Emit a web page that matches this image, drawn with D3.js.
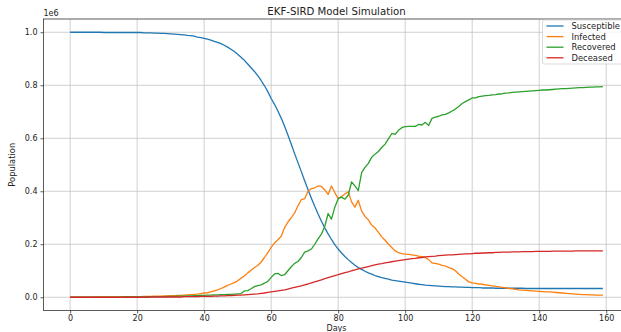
<!DOCTYPE html>
<html>
<head>
<meta charset="utf-8">
<script src="https://cdn.jsdelivr.net/npm/d3@7"></script>
<style>
  html, body { margin: 0; padding: 0; background: #fff; }
  svg { display: block; font-family: "DejaVu Sans", sans-serif; }
</style>
</head>
<body>
<svg id="chart" width="621" height="332"></svg>
<script>
// Daily compartment sizes from the EKF-SIRD run, in units of 1e6 people.
const days = d3.range(0, 160);

const susceptible = [
  1.000, 1.000, 1.000, 1.000, 1.000, 1.000, 1.000, 1.000, 1.000, 1.000,
  0.999, 0.999, 0.999, 0.999, 0.999, 0.999, 0.999, 0.999, 0.999, 0.999,
  0.999, 0.999, 0.998, 0.998, 0.998, 0.997, 0.997, 0.996, 0.996, 0.995,
  0.994, 0.993, 0.992, 0.991, 0.990, 0.988, 0.987, 0.985, 0.982, 0.980,
  0.977, 0.974, 0.970, 0.966, 0.962, 0.957, 0.951, 0.944, 0.936, 0.927,
  0.917, 0.906, 0.894, 0.880, 0.866, 0.852, 0.836, 0.818, 0.798, 0.776,
  0.750, 0.728, 0.703, 0.676, 0.645, 0.612, 0.577, 0.542, 0.508, 0.474,
  0.440, 0.406, 0.374, 0.343, 0.314, 0.287, 0.262, 0.239, 0.218, 0.199,
  0.182, 0.167, 0.154, 0.142, 0.131, 0.121, 0.112, 0.105, 0.098, 0.092,
  0.087, 0.082, 0.078, 0.074, 0.071, 0.068, 0.065, 0.063, 0.061, 0.059,
  0.057, 0.055, 0.053, 0.051, 0.049, 0.048, 0.046, 0.045, 0.044, 0.043,
  0.042, 0.041, 0.040, 0.040, 0.039, 0.039, 0.038, 0.038, 0.037, 0.037,
  0.036, 0.036, 0.036, 0.035, 0.035, 0.035, 0.035, 0.034, 0.034, 0.034,
  0.034, 0.034, 0.034, 0.034, 0.034, 0.034, 0.033, 0.033, 0.033, 0.033,
  0.033, 0.033, 0.033, 0.033, 0.033, 0.033, 0.033, 0.033, 0.033, 0.033,
  0.033, 0.033, 0.033, 0.033, 0.033, 0.033, 0.033, 0.033, 0.033, 0.033
];

const infected = [
  0.000, 0.000, 0.000, 0.000, 0.000, 0.000, 0.000, 0.001, 0.001, 0.001,
  0.001, 0.001, 0.001, 0.001, 0.001, 0.001, 0.002, 0.002, 0.002, 0.002,
  0.002, 0.002, 0.003, 0.003, 0.003, 0.004, 0.004, 0.004, 0.005, 0.005,
  0.006, 0.006, 0.007, 0.007, 0.008, 0.009, 0.010, 0.011, 0.012, 0.014,
  0.016, 0.017, 0.020, 0.024, 0.028, 0.033, 0.038, 0.045, 0.050, 0.055,
  0.062, 0.072, 0.080, 0.092, 0.102, 0.112, 0.120, 0.133, 0.150, 0.168,
  0.188, 0.205, 0.217, 0.230, 0.262, 0.284, 0.300, 0.318, 0.345, 0.368,
  0.372, 0.400, 0.410, 0.413, 0.420, 0.418, 0.405, 0.388, 0.420, 0.395,
  0.372, 0.380, 0.390, 0.398, 0.360, 0.340, 0.366, 0.325, 0.305, 0.292,
  0.272, 0.262, 0.245, 0.228, 0.215, 0.200, 0.188, 0.175, 0.168, 0.165,
  0.163, 0.162, 0.160, 0.158, 0.155, 0.153, 0.150, 0.142, 0.130, 0.128,
  0.125, 0.120, 0.118, 0.112, 0.108, 0.100, 0.088, 0.077, 0.068, 0.058,
  0.054, 0.052, 0.050, 0.049, 0.047, 0.045, 0.043, 0.041, 0.039, 0.037,
  0.035, 0.033, 0.032, 0.030, 0.028, 0.027, 0.026, 0.025, 0.024, 0.023,
  0.022, 0.021, 0.020, 0.020, 0.019, 0.018, 0.017, 0.016, 0.015, 0.014,
  0.013, 0.012, 0.011, 0.010, 0.010, 0.009, 0.009, 0.008, 0.008, 0.008
];

const recovered = [
  0.000, 0.000, 0.000, 0.000, 0.000, 0.000, 0.000, 0.000, 0.000, 0.000,
  0.000, 0.000, 0.000, 0.000, 0.000, 0.000, 0.001, 0.001, 0.001, 0.001,
  0.001, 0.001, 0.001, 0.001, 0.002, 0.002, 0.002, 0.002, 0.002, 0.003,
  0.003, 0.003, 0.004, 0.004, 0.004, 0.005, 0.005, 0.006, 0.006, 0.007,
  0.007, 0.008, 0.008, 0.009, 0.009, 0.010, 0.010, 0.011, 0.011, 0.012,
  0.013, 0.014, 0.024, 0.025, 0.032, 0.040, 0.044, 0.047, 0.053, 0.060,
  0.075, 0.088, 0.090, 0.082, 0.085, 0.100, 0.115, 0.128, 0.135, 0.150,
  0.170, 0.175, 0.182, 0.200, 0.220, 0.238, 0.268, 0.316, 0.295, 0.340,
  0.372, 0.378, 0.370, 0.385, 0.435, 0.420, 0.402, 0.470, 0.490, 0.505,
  0.528, 0.540, 0.550, 0.565, 0.578, 0.598, 0.618, 0.615, 0.630, 0.640,
  0.644, 0.645, 0.645, 0.645, 0.652, 0.650, 0.660, 0.648, 0.675, 0.680,
  0.683, 0.688, 0.690, 0.696, 0.703, 0.710, 0.720, 0.731, 0.738, 0.745,
  0.752, 0.752, 0.757, 0.759, 0.761, 0.762, 0.764, 0.765, 0.767, 0.768,
  0.770, 0.771, 0.773, 0.774, 0.775, 0.776, 0.777, 0.778, 0.779, 0.780,
  0.781, 0.782, 0.782, 0.783, 0.784, 0.785, 0.786, 0.787, 0.787, 0.788,
  0.789, 0.790, 0.791, 0.791, 0.792, 0.793, 0.793, 0.794, 0.794, 0.795
];

const deceased = [
  0.000, 0.000, 0.000, 0.000, 0.000, 0.000, 0.000, 0.000, 0.000, 0.000,
  0.000, 0.000, 0.000, 0.000, 0.000, 0.000, 0.000, 0.000, 0.000, 0.000,
  0.000, 0.000, 0.000, 0.000, 0.001, 0.001, 0.001, 0.001, 0.001, 0.001,
  0.001, 0.001, 0.001, 0.001, 0.002, 0.002, 0.002, 0.002, 0.002, 0.003,
  0.003, 0.003, 0.003, 0.004, 0.004, 0.005, 0.005, 0.006, 0.006, 0.007,
  0.008, 0.008, 0.009, 0.010, 0.011, 0.012, 0.013, 0.015, 0.016, 0.018,
  0.020, 0.022, 0.024, 0.026, 0.028, 0.031, 0.034, 0.037, 0.040, 0.043,
  0.047, 0.050, 0.054, 0.058, 0.062, 0.066, 0.070, 0.074, 0.078, 0.082,
  0.085, 0.089, 0.093, 0.096, 0.100, 0.103, 0.107, 0.110, 0.113, 0.116,
  0.119, 0.122, 0.125, 0.127, 0.130, 0.132, 0.134, 0.136, 0.138, 0.140,
  0.142, 0.144, 0.146, 0.147, 0.149, 0.150, 0.152, 0.153, 0.154, 0.155,
  0.157, 0.158, 0.159, 0.160, 0.160, 0.161, 0.162, 0.163, 0.164, 0.164,
  0.165, 0.166, 0.166, 0.167, 0.167, 0.168, 0.168, 0.169, 0.169, 0.170,
  0.170, 0.170, 0.171, 0.171, 0.171, 0.172, 0.172, 0.172, 0.172, 0.173,
  0.173, 0.173, 0.173, 0.173, 0.174, 0.174, 0.174, 0.174, 0.174, 0.174,
  0.174, 0.175, 0.175, 0.175, 0.175, 0.175, 0.175, 0.175, 0.175, 0.175
];

const seriesNames = ["Susceptible", "Infected", "Recovered", "Deceased"];
const seriesColors = ["#1f77b4", "#ff7f0e", "#2ca02c", "#d62728"];
const xTicks = [0, 20, 40, 60, 80, 100, 120, 140, 160];
const yTicks = [0.0, 0.2, 0.4, 0.6, 0.8, 1.0];

const series = [susceptible, infected, recovered, deceased].map((vals, i) => ({
  name: seriesNames[i],
  color: seriesColors[i],
  points: days.map((d, j) => ({ day: d, value: vals[j] }))
}));

// Plot area: the axes run a little past the right edge of the canvas.
const plotLeft = 43.5, plotRight = 629.5, plotTop = 19, plotBottom = 310.5;

const x = d3.scaleLinear().domain([-7.95, 166.95]).range([plotLeft, plotRight]);
const y = d3.scaleLinear().domain([-0.05, 1.05]).range([plotBottom, plotTop]);

const svg = d3.select("#chart");

// Grid
const grid = svg.append("g").attr("stroke", "#c4c4c4").attr("stroke-width", 0.8);
grid.selectAll("line.vx").data(xTicks).join("line")
  .attr("x1", d => x(d)).attr("x2", d => x(d))
  .attr("y1", plotTop).attr("y2", plotBottom);
grid.selectAll("line.hy").data(yTicks).join("line")
  .attr("x1", plotLeft).attr("x2", plotRight)
  .attr("y1", d => y(d)).attr("y2", d => y(d));

// Axes
const xAxis = d3.axisBottom(x).tickValues(xTicks).tickSize(3).tickPadding(2)
  .tickFormat(d3.format("d"));
const yAxis = d3.axisLeft(y).tickValues(yTicks).tickSize(3).tickPadding(3)
  .tickFormat(d3.format(".1f"));

const gx = svg.append("g").attr("transform", `translate(0,${plotBottom})`).call(xAxis);
const gy = svg.append("g").attr("transform", `translate(${plotLeft},0)`).call(yAxis);
[gx, gy].forEach(g => {
  g.select(".domain").remove();
  g.selectAll(".tick line").attr("stroke", "#333").attr("stroke-width", 0.8);
  g.selectAll(".tick text").attr("fill", "#222").attr("font-size", 8)
    .attr("font-family", "DejaVu Sans, sans-serif");
});

// Lines
const line = d3.line().x(d => x(d.day)).y(d => y(d.value));
svg.append("g").selectAll("path").data(series).join("path")
  .attr("fill", "none")
  .attr("stroke", d => d.color)
  .attr("stroke-width", 1.3)
  .attr("stroke-linejoin", "round")
  .attr("d", d => line(d.points));

// Spines
svg.append("rect")
  .attr("x", plotLeft).attr("y", plotTop)
  .attr("width", plotRight - plotLeft).attr("height", plotBottom - plotTop)
  .attr("fill", "none").attr("stroke", "#333").attr("stroke-width", 0.8);

// Title, axis labels, scale factor
svg.append("text").attr("x", (plotLeft + plotRight) / 2).attr("y", 15)
  .attr("text-anchor", "middle").attr("font-size", 10.2).attr("fill", "#222")
  .text("EKF-SIRD Model Simulation");
svg.append("text").attr("x", (plotLeft + plotRight) / 2).attr("y", 331)
  .attr("text-anchor", "middle").attr("font-size", 8).attr("fill", "#222")
  .text("Days");
svg.append("text")
  .attr("transform", `translate(15,${(plotTop + plotBottom) / 2}) rotate(-90)`)
  .attr("text-anchor", "middle").attr("font-size", 8.4).attr("fill", "#222")
  .text("Population");
svg.append("text").attr("x", plotLeft).attr("y", 16)
  .attr("font-size", 8).attr("fill", "#222").text("1e6");

// Legend
const lg = svg.append("g").attr("transform", "translate(542.5,20)");
lg.append("rect").attr("x", 0).attr("y", 0).attr("width", 84).attr("height", 44)
  .attr("rx", 2).attr("fill", "#fff").attr("fill-opacity", 0.8)
  .attr("stroke", "#d0d0d0").attr("stroke-width", 0.8);
const rows = lg.selectAll("g.row").data(series).join("g")
  .attr("transform", (d, i) => `translate(0,${6 + i * 10.6})`);
rows.append("line").attr("x1", 4).attr("x2", 21).attr("y1", 0).attr("y2", 0)
  .attr("stroke", d => d.color).attr("stroke-width", 1.3);
rows.append("text").attr("x", 29).attr("y", 3).attr("font-size", 8.4)
  .attr("fill", "#222").text(d => d.name);
</script>
</body>
</html>
